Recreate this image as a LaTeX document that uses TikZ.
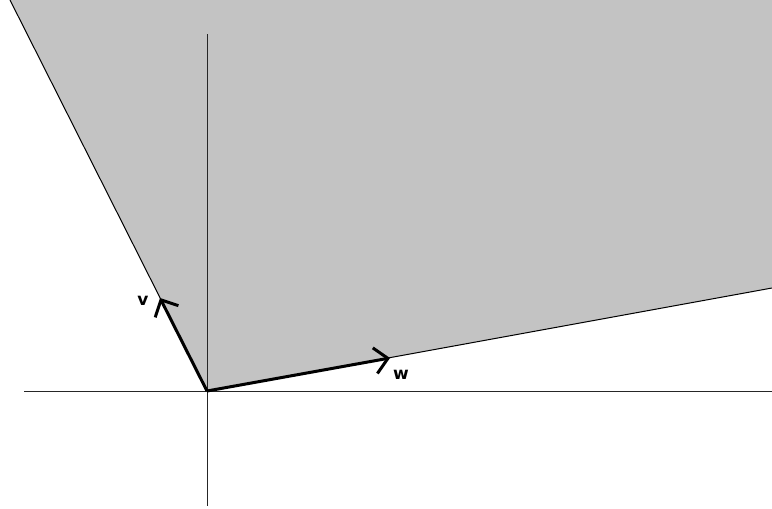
\documentclass[tikz,border=0pt]{standalone}
\usepackage{fontspec}
\setmainfont{DejaVu Sans}
\usetikzlibrary{arrows.meta}
\definecolor{regiongray}{RGB}{195,195,195}
\tikzset{
  axis/.style={line width=1pt, black!85},
  edge/.style={line width=1pt, black},
  vec/.style={line width=3pt, black, -{Straight Barb[length=13pt, width=26pt, line width=3pt]}},
  lbl/.style={font=\bfseries\fontsize{17}{17}\selectfont, inner sep=0pt}
}
\begin{document}
\begin{tikzpicture}[x=1pt,y=-1pt]
\useasboundingbox (0,0) rectangle (772,509);
\fill[white] (0,0) rectangle (772,509);
\coordinate (O) at (207,391);
\coordinate (A) at (10,0);
\coordinate (B) at (772,288);
\fill[regiongray] (A) -- (O) -- (B) -- (772,0) -- cycle;
\draw[edge] (A) -- (O) -- (B);
\coordinate (xl) at (24,391);
\coordinate (xr) at (772,391);
\coordinate (yt) at (207,34);
\coordinate (yb) at (207,506);
\draw[axis] (xl) -- (xr);
\draw[axis] (yt) -- (yb);
\coordinate (V) at (160,298);
\coordinate (W) at (390,358);
\draw[vec] (O) -- (V);
\draw[vec] (O) -- (W);
\node[lbl] (vl) at (143,301) {v};
\node[lbl] (wl) at (401,375) {w};
\end{tikzpicture}
\end{document}
